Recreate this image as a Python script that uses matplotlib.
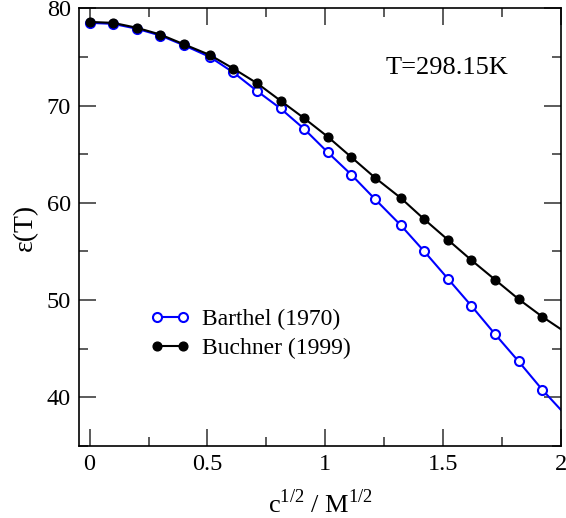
import matplotlib
matplotlib.use("Agg")
import matplotlib.pyplot as plt
from matplotlib.ticker import MultipleLocator

# sqrt of concentration at the measured points
sqrt_c = [0.0, 0.10, 0.20, 0.30, 0.40, 0.51, 0.61, 0.71, 0.81, 0.91,
          1.01, 1.11, 1.21, 1.32, 1.42, 1.52, 1.62, 1.72, 1.82, 1.92]
eps_barthel = [78.5, 78.4, 77.9, 77.2, 76.2, 75.0, 73.4, 71.5, 69.7, 67.6,
               65.2, 62.9, 60.4, 57.7, 55.0, 52.2, 49.4, 46.5, 43.7, 40.8]
eps_buchner = [78.6, 78.5, 78.0, 77.3, 76.3, 75.2, 73.8, 72.3, 70.5, 68.7,
               66.8, 64.7, 62.6, 60.5, 58.3, 56.2, 54.1, 52.1, 50.1, 48.3]
# curves continue to the right edge
x_end = 2.0
barthel_end = 38.7
buchner_end = 47.0

plt.rcParams['font.family'] = ['Liberation Serif', 'DejaVu Serif']
plt.rcParams['mathtext.fontset'] = 'custom'
plt.rcParams['mathtext.rm'] = 'Liberation Serif'

fig = plt.figure(figsize=(5.66, 5.18), dpi=100)
ax = fig.add_axes([0.1396, 0.139, 0.8516, 0.845])

n = len(sqrt_c)
ax.plot(sqrt_c + [x_end], eps_barthel + [barthel_end], color='#0000ff',
        lw=1.5, marker='o', ms=6.5, mfc='white', mec='#0000ff', mew=1.5,
        markevery=slice(0, n), label='Barthel (1970)')
ax.plot(sqrt_c + [x_end], eps_buchner + [buchner_end], color='black',
        lw=1.5, marker='o', ms=6.3, mfc='black', mec='black',
        markevery=slice(0, n), label='Buchner (1999)')

ax.set_xlim(-0.045, 2.0)
ax.set_ylim(35, 80)
ax.xaxis.set_major_locator(MultipleLocator(0.5))
ax.xaxis.set_minor_locator(MultipleLocator(0.25))
ax.yaxis.set_major_locator(MultipleLocator(10))
ax.yaxis.set_minor_locator(MultipleLocator(5))
ax.set_xticks([0, 0.5, 1, 1.5, 2])
ax.set_xticklabels(['0', '0.5', '1', '1.5', '2'])

ax.tick_params(which='both', direction='in', top=True, right=True,
               color='0.25', width=1.2, labelsize=17.5)
ax.tick_params(which='major', length=12.5, pad=6)
ax.tick_params(which='minor', length=6.5)
for sp in ax.spines.values():
    sp.set_linewidth(1.2)

ax.set_xlabel(r'c$^{\mathregular{1/2}}$ / M$^{\mathregular{1/2}}$',
              fontsize=19, labelpad=10)
ax.set_ylabel('ε(T)', fontsize=20, labelpad=6)

ax.text(0.635, 0.864, 'T=298.15K', transform=ax.transAxes,
        fontsize=19, ha='left', va='center')

ax.legend(loc='upper left', bbox_to_anchor=(0.147, 0.314), frameon=False,
          fontsize=17, handlelength=1.7, handletextpad=0.5,
          labelspacing=0.33, borderpad=0, borderaxespad=0, numpoints=2)

fig.savefig('out.png', dpi=100)
